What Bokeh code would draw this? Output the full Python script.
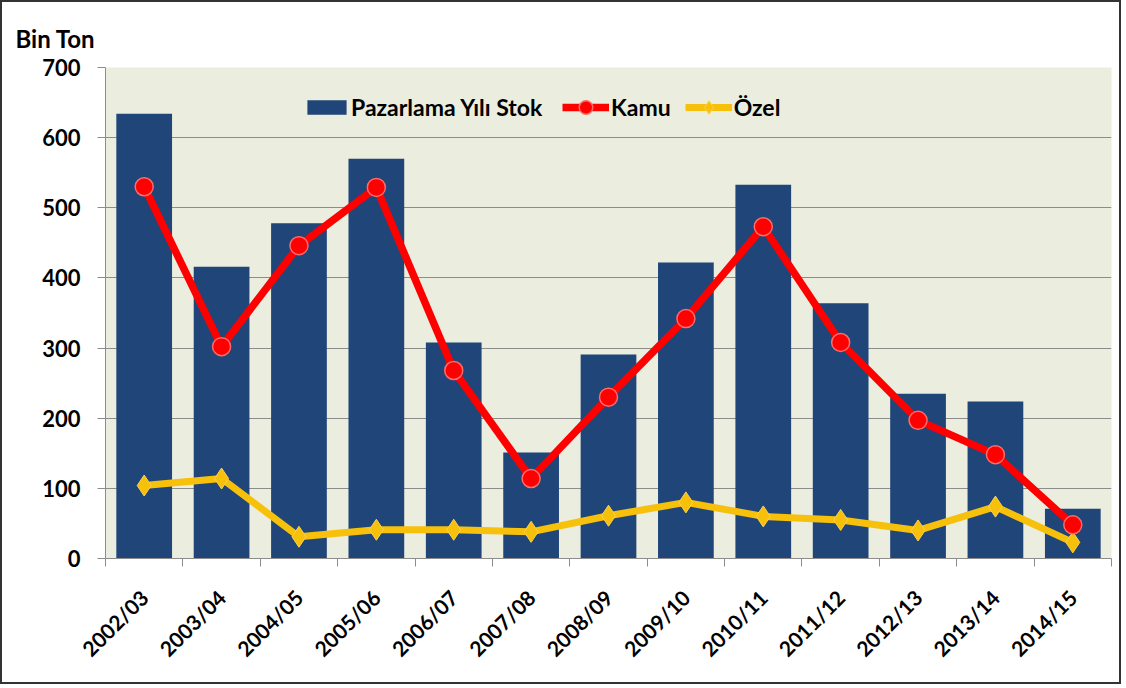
import numpy as np
from math import pi
from bokeh.plotting import figure
from bokeh.models import ColumnDataSource, FixedTicker, Range1d, Legend, LegendItem
from bokeh.embed import file_html
from bokeh.resources import INLINE

categories = ["2002/03", "2003/04", "2004/05", "2005/06", "2006/07", "2007/08", "2008/09",
              "2009/10", "2010/11", "2011/12", "2012/13", "2013/14", "2014/15"]
stok = [634, 416, 478, 570, 308, 151, 291, 422, 533, 364, 235, 224, 71]
kamu = [530, 302, 446, 529, 268, 114, 230, 342, 473, 308, 197, 148, 48]
ozel = [104, 114, 31, 41, 41, 38, 61, 80, 60, 55, 40, 74, 23]
y_ticks = [0, 100, 200, 300, 400, 500, 600, 700]

FONT = "Lato"
BLUE = "#1F4579"
RED = "#FF0000"
YEL = "#F7C00A"

n = len(categories)
x = np.arange(n) + 0.5
src = ColumnDataSource(dict(x=x, stok=stok, kamu=kamu, ozel=ozel))

p = figure(frame_width=1006, frame_height=491,
           x_range=Range1d(0, n), y_range=Range1d(0, 700),
           output_backend="svg", toolbar_location=None,
           min_border_left=103, min_border_right=8, min_border_top=65, min_border_bottom=124,
           background_fill_color="#EBEDDE", border_fill_color="white",
           outline_line_color=None, title="Bin Ton")
p.styles = {"border": "2px solid #333333"}

p.title.align = "left"
p.title.offset = -90
p.title.text_font = FONT
p.title.text_font_size = "24px"
p.title.text_font_style = "bold"
p.title.text_color = "black"
p.title.standoff = 29

bars = p.vbar(x="x", top="stok", bottom=0, width=0.72, fill_color=BLUE, line_color=None,
              source=src)
oz_l = p.line(x="x", y="ozel", line_color=YEL, line_width=7, source=src)
oz_s = p.scatter(x="x", y="ozel", marker="diamond", size=21, fill_color=YEL, line_color="#FFD24A",
                 line_width=1, source=src)
ka_l = p.line(x="x", y="kamu", line_color=RED, line_width=7.5, source=src)
ka_s = p.scatter(x="x", y="kamu", marker="circle", size=18, fill_color=RED, line_color="#FF6A6A",
                 line_width=1.5, source=src)

def style_legend(lg):
    lg.orientation = "horizontal"
    lg.background_fill_alpha = 0
    lg.border_line_alpha = 0
    lg.padding = 0
    lg.margin = 0
    lg.label_text_font = FONT
    lg.label_text_font_size = "23px"
    lg.label_text_font_style = "bold"
    lg.label_text_color = "black"

lg1 = Legend(items=[LegendItem(label="Pazarlama Yılı Stok", renderers=[bars])],
             location=(197, 437))
style_legend(lg1)
lg1.glyph_width = 49
lg1.glyph_height = 18
lg1.label_height = 18
lg1.label_standoff = 0

lg2 = Legend(items=[LegendItem(label="Kamu", renderers=[ka_l, ka_s]),
                    LegendItem(label="Özel", renderers=[oz_l, oz_s])],
             location=(457, 434))
style_legend(lg2)
lg2.glyph_width = 47
lg2.glyph_height = 34
lg2.label_height = 34
lg2.label_standoff = 2
lg2.spacing = 14

p.add_layout(lg1)
p.add_layout(lg2)

# y axis
p.yaxis.ticker = FixedTicker(ticks=y_ticks)
p.yaxis.axis_line_color = "#8C8C8C"
p.yaxis.major_tick_line_color = "#8C8C8C"
p.yaxis.major_tick_out = 8
p.yaxis.major_tick_in = 0
p.yaxis.minor_tick_line_color = None
p.yaxis.major_label_standoff = 17
p.yaxis.major_label_text_font = FONT
p.yaxis.major_label_text_font_size = "22px"
p.yaxis.major_label_text_font_style = "bold"
p.yaxis.major_label_text_color = "black"

# x axis
p.xaxis.ticker = FixedTicker(ticks=list(x), minor_ticks=list(range(n + 1)))
p.xaxis.major_label_overrides = {float(xx): c for xx, c in zip(x, categories)}
p.xaxis.axis_line_color = "#8C8C8C"
p.xaxis.major_tick_line_color = None
p.xaxis.major_tick_out = 0
p.xaxis.major_tick_in = 0
p.xaxis.minor_tick_line_color = "#8C8C8C"
p.xaxis.minor_tick_out = 8
p.xaxis.minor_tick_in = 0
p.xaxis.major_label_orientation = pi / 4
p.xaxis.major_label_standoff = 27
p.xaxis.major_label_text_font = FONT
p.xaxis.major_label_text_font_size = "21px"
p.xaxis.major_label_text_font_style = "bold"
p.xaxis.major_label_text_color = "black"

p.xgrid.grid_line_color = None
p.ygrid.ticker = FixedTicker(ticks=y_ticks)
p.ygrid.grid_line_color = "#8C8C8C"
p.ygrid.grid_line_width = 1

open("out.html", "w").write(file_html(p, INLINE))
